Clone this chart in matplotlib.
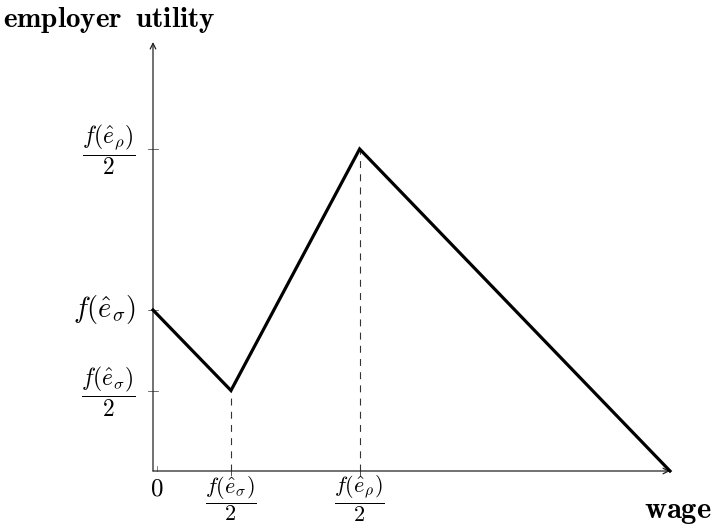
import matplotlib
matplotlib.use("Agg")
import matplotlib.pyplot as plt

plt.rcParams['mathtext.fontset'] = 'cm'
plt.rcParams['lines.scale_dashes'] = False

# Data (in abstract units)
wage = [0, 1.0, 2.65, 6.63]
utility = [2.0, 1.0, 4.0, 0.0]
xtick_pos = [0, 1.0, 2.65]
xtick_labels = [r'$0$', r'$\dfrac{f(\hat{e}_\sigma)}{2}$', r'$\dfrac{f(\hat{e}_\rho)}{2}$']
ytick_pos = [1.0, 2.0, 4.0]
ytick_labels = [r'$\dfrac{f(\hat{e}_\sigma)}{2}$', r'$f(\hat{e}_\sigma)$', r'$\dfrac{f(\hat{e}_\rho)}{2}$']
xlabel = r'$\mathbf{wage}$'
ylabel = r'$\mathbf{employer\;\;utility}$'

W, H = 715, 527
fig = plt.figure(figsize=(W/100, H/100), dpi=100)
x0, x1 = 153, 670
xmax = 6.63
ymin_px = 471
yscale = 80.5
ymax = (471 - 42) / yscale
ax = fig.add_axes([x0/W, (H-ymin_px)/H, (x1-x0)/W, (ymin_px-42)/H])
ax.set_xlim(0, xmax)
ax.set_ylim(0, ymax)
ax.axis('off')

# axes with arrows
ax.annotate('', xy=(xmax, 0), xytext=(0, 0),
            arrowprops=dict(arrowstyle='->', lw=0.9, color='#222222', shrinkA=0, shrinkB=0),
            annotation_clip=False)
ax.annotate('', xy=(0, ymax), xytext=(0, 0),
            arrowprops=dict(arrowstyle='->', lw=0.9, color='#222222', shrinkA=0, shrinkB=0),
            annotation_clip=False)

# dashed guide lines
for xv, yv in zip(wage[1:3], utility[1:3]):
    ax.plot([xv, xv], [0, yv], ls=(0, (5, 4.5)), lw=0.8, color='#333333', clip_on=False)

# main line
ax.plot(wage, utility, color='black', lw=2.3, solid_joinstyle='miter', clip_on=False, zorder=5)

# ticks
px = xmax / (x1 - x0)
py = 1.0 / yscale
for yv in ytick_pos:
    ax.plot([-5*px, 5*px], [yv, yv], color='#333333', lw=0.5, clip_on=False)
for xv in xtick_pos[1:]:
    ax.plot([xv, xv], [-4*py, 4*py], color='#333333', lw=0.6, clip_on=False)
ax.plot([4*px, 4*px], [0, 5*py], color='#555555', lw=0.5, clip_on=False)

# tick labels
for yv, lab in zip(ytick_pos, ytick_labels):
    fs = 20.5 if 'dfrac' not in lab else 17
    ax.text(-17*px, yv + (0 if fs > 18 else -1*py), lab, ha='right', va='center', fontsize=fs)
for xv, lab in zip(xtick_pos, xtick_labels):
    if xv == 0:
        ax.text(4*px, -5*py, lab, ha='center', va='top', fontsize=18)
    else:
        ax.text(xv, -3*py, lab, ha='center', va='top', fontsize=16)

fig.text(3/W, 1 - 20/H, ylabel, ha='left', va='center', fontsize=21)
fig.text(712/W, 1 - 512/H, xlabel, ha='right', va='center', fontsize=22)

fig.savefig('out.png', dpi=100)
